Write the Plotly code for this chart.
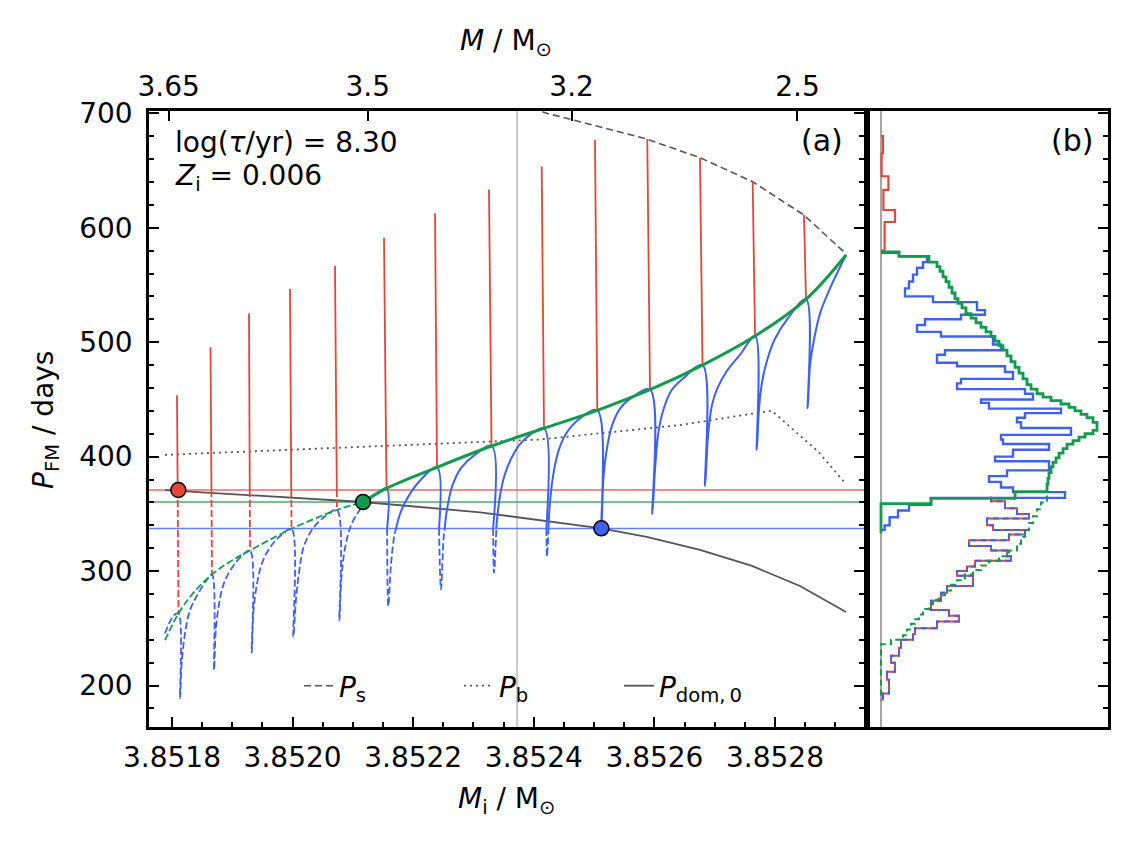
import plotly.graph_objects as go

# colours
RED = "#e0483a"
BLUE = "#4060f0"
GREEN = "#139a4e"
DARK = "#555555"

# ---------------- panel (a) data ----------------
# red tracks: one segment per loop, top -> bottom
red_top_m = [3.8518083, 3.8518639, 3.8519277, 3.8519957, 3.8520703, 3.8521516, 3.8522362,
             3.8523257, 3.8524131, 3.8525015, 3.8525882, 3.8526756, 3.8527630, 3.8528481]
red_top_p = [453.6, 495.6, 525.3, 546.5, 566.8, 591.3, 612.7, 633.4, 653.4, 676.7, 677.5, 661.2, 640.2, 611.1]
red_bot_m = [3.8518108, 3.8518663, 3.8519294, 3.8519982, 3.8520736, 3.8521557, 3.8522395,
             3.8523299, 3.8524169, 3.8525053, 3.8525927, 3.8526798, 3.8527669, 3.8528514]
red_bot_p = [263.0, 297.0, 318.0, 337.0, 353.4, 372.3, 390.7, 409.3, 424.8, 440.5, 458.5, 480.0, 505.4, 537.5]

# blue track (continuous)
blue_m = [3.8517884, 3.8517967, 3.8518033,
          3.8518108, 3.8518133, 3.8518161, 3.8518216, 3.8518299, 3.8518436, 3.8518576,
          3.8518663, 3.8518697, 3.8518726, 3.8518779, 3.8518862, 3.8518995, 3.8519161,
          3.8519294, 3.8519322, 3.8519353, 3.8519410, 3.8519493, 3.8519642, 3.8519824,
          3.8519982, 3.8520012, 3.8520056, 3.8520115, 3.8520189, 3.8520347, 3.8520554,
          3.8520736, 3.8520775, 3.8520811, 3.8520869, 3.8520969, 3.8521134, 3.8521350,
          3.8521557, 3.8521587, 3.8521632, 3.8521690, 3.8521789, 3.8521930, 3.8522129,
          3.8522395, 3.8522461, 3.8522503, 3.8522561, 3.8522652, 3.8522793, 3.8523008,
          3.8523299, 3.8523340, 3.8523382, 3.8523440, 3.8523523, 3.8523622, 3.8523771, 3.8523970,
          3.8524169, 3.8524219, 3.8524261, 3.8524319, 3.8524410, 3.8524534, 3.8524733,
          3.8525053, 3.8525120, 3.8525153, 3.8525209, 3.8525292, 3.8525430, 3.8525596,
          3.8525927, 3.8525965, 3.8526010, 3.8526065, 3.8526148, 3.8526287, 3.8526479,
          3.8526798, 3.8526839, 3.8526889, 3.8526955, 3.8527038, 3.8527204, 3.8527420,
          3.8527669, 3.8527697, 3.8527735, 3.8527785, 3.8527868, 3.8528000, 3.8528216,
          3.8528514, 3.8528542, 3.8528581, 3.8528639, 3.8528746, 3.8528912, 3.8529045, 3.8529178]
blue_p = [245.6, 256.0, 261.5,
          263.0, 188.9, 219.4, 245.6, 266.0, 280.6, 292.2,
          297.0, 213.6, 248.0, 271.0, 289.5, 303.0, 313.5,
          318.0, 228.7, 266.0, 289.0, 307.0, 322.0, 332.0,
          337.0, 242.7, 275.0, 302.0, 322.0, 338.0, 348.5,
          353.4, 256.7, 295.0, 320.0, 340.0, 355.0, 366.0,
          372.3, 269.5, 306.0, 332.0, 351.0, 366.0, 380.0,
          390.7, 284.0, 328.0, 354.0, 375.0, 390.0, 401.0,
          409.3, 298.6, 340.0, 366.0, 385.0, 398.0, 411.0, 420.4,
          424.8, 313.0, 355.0, 383.0, 405.0, 420.0, 432.0,
          440.5, 337.4, 379.6, 405.8, 426.2, 442.0, 450.5,
          458.5, 349.9, 388.3, 420.4, 440.8, 458.2, 468.4,
          480.0, 374.4, 418.0, 445.0, 459.0, 475.0, 489.0,
          505.4, 405.8, 442.0, 465.0, 484.0, 503.0, 521.0,
          537.5, 442.3, 480.0, 500.0, 525.0, 547.0, 562.0, 576.2]

# green envelope
green_m = [3.8517884, 3.8518108, 3.8518348, 3.8518663, 3.8518962, 3.8519294, 3.8519982,
           3.8520736, 3.8521168, 3.8521557, 3.8522395, 3.8523299, 3.8524169, 3.8525053,
           3.8525927, 3.8526798, 3.8527669, 3.8528514, 3.8529178]
green_p = [239.6, 263.0, 280.6, 297.0, 308.2, 318.0, 337.0, 353.4, 360.4, 372.3, 390.7,
           409.3, 424.8, 440.5, 458.5, 480.0, 505.4, 537.5, 576.2]

ps_m = [3.8523970, 3.8524214, 3.8524655, 3.8525872, 3.8526756, 3.8527630, 3.8528481, 3.8529178]
ps_p = [704.5, 700.0, 694.1, 677.5, 661.2, 640.2, 611.1, 577.1]
pb_m = [3.8517884, 3.8524103, 3.8526425, 3.8527945, 3.8528718, 3.8529178]
pb_p = [401.5, 415.0, 427.6, 440.2, 404.3, 376.0]
pdom_m = [3.8517884, 3.8521168, 3.8523108, 3.8524214, 3.8525120, 3.8525872, 3.8526756,
          3.8527619, 3.8528415, 3.8529178]
pdom_p = [370.8, 360.4, 351.4, 344.0, 337.4, 330.0, 318.5, 304.5, 287.0, 264.3]

dot_m = [3.8518105, 3.8521168, 3.8525120]
dot_p = [370.9, 360.4, 337.4]
dot_c = [RED, GREEN, BLUE]

m_vline = 3.8523722
top_tick_m = [3.8517945, 3.8521246, 3.8524627, 3.8528373]
top_tick_txt = ["3.65", "3.5", "3.2", "2.5"]

# ---------------- panel (b) histograms ----------------
red_h_edges = [680, 665, 645, 633, 615.5, 605, 580]
red_h_counts = [1, 0.3, 3.7, 1.2, 7, 1.8]

blue_h_edges = [578, 575, 570, 565, 559, 553, 547, 540, 535, 528, 524, 520, 515, 509, 505, 498,
                493, 489, 482, 479, 474, 468, 464, 459, 455, 450, 447, 442, 438, 434, 430, 425,
                419, 415, 411, 406, 400, 396, 388, 383, 378, 373, 369, 364, 358, 353, 347, 340, 336]
blue_h_counts = [9, 23, 21, 18, 16, 14, 12, 26, 48, 52, 40, 22, 18, 30, 56, 60, 32, 28, 38, 62,
                 66, 40, 38, 72, 76, 50, 54, 90, 72, 68, 70, 95, 60, 61, 84, 66, 57, 84, 63, 54,
                 60, 66, 92, 25, 14, 8.5, 4.3, 1.8]

blue_hd_edges = [365, 361, 355, 350, 346, 340, 336, 332, 327, 322, 318, 313, 309, 304, 300, 296,
                 287, 281, 274, 266, 261, 256, 250, 245, 240, 233, 226, 220, 212, 205, 193, 187]
blue_hd_counts = [55, 62, 68, 74, 53, 56, 72, 64, 44, 55, 63, 65, 47, 43, 38, 46, 33, 30, 25, 34,
                  39, 28, 17, 16, 10, 9, 5, 7, 3, 4, 1]

green_h_edges = [579, 575, 570, 566, 562, 557, 553, 548, 543, 538, 534, 530, 525, 521, 517, 513,
                 509, 505, 501, 497, 493, 488, 483, 478, 473, 468, 463, 459, 455, 452, 449, 446,
                 443, 440, 437, 434, 430, 423, 420, 417, 414, 411, 407, 403, 399, 395, 391, 386,
                 381, 376, 369.5, 363.5, 359, 333]
green_h_counts = [9, 24, 28, 29.5, 31, 32.5, 34, 35.5, 37, 38.5, 40.5, 42.5, 45, 47.5, 50, 52.5,
                  55, 57, 59, 61, 63, 65, 67, 69, 71, 73, 75, 78, 81, 85, 90, 94, 97, 100, 103,
                  106, 108, 106, 102, 99, 96, 93, 91, 89, 87.5, 86, 85, 84, 83.5, 83, 67, 25, 0]

green_hd_edges = [366, 360, 354, 348, 342, 336, 330, 324, 318, 313, 309, 305, 301, 297, 292, 288,
                  283, 279, 275, 271, 267, 262, 258, 254, 249, 244, 240, 236, 187]
green_hd_counts = [83, 80, 78, 76, 74, 72, 70, 68, 64, 59, 54, 50, 46, 42, 38, 35, 32, 29, 26, 24,
                   21, 19, 17, 15, 13, 11, 5, 0]

P_RED, P_GREEN, P_BLUE = 370.9, 360.4, 337.2
M_GREEN_DOT = dot_m[1]

XR = [3.85176186, 3.85294761]
YR = [163.8, 702.0]


def split_by(xs, ys, cond):
    """split a polyline into solid / dashed runs according to cond(x, y)"""
    sx, sy, dx, dy = [], [], [], []
    prev = None
    for x, y in zip(xs, ys):
        if x is None:
            for l in (sx, sy, dx, dy):
                l.append(None)
            prev = None
            continue
        s = cond(x, y)
        if prev is not None and s != prev[2]:
            x0, y0, s0 = prev
            lo, hi = 0.0, 1.0
            for _ in range(40):
                mid = 0.5 * (lo + hi)
                if cond(x0 + mid * (x - x0), y0 + mid * (y - y0)) == s0:
                    lo = mid
                else:
                    hi = mid
            xc, yc = x0 + lo * (x - x0), y0 + lo * (y - y0)
            tx, ty = (sx, sy) if s0 else (dx, dy)
            tx += [xc, None]
            ty += [yc, None]
            nx, ny = (sx, sy) if s else (dx, dy)
            nx.append(xc)
            ny.append(yc)
        nx, ny = (sx, sy) if s else (dx, dy)
        nx.append(x)
        ny.append(y)
        prev = (x, y, s)
    return sx, sy, dx, dy


def step_path(edges, counts, base=True):
    xs, ys = ([0.0], [edges[0]]) if base else ([], [])
    for k, c in enumerate(counts):
        xs += [c, c]
        ys += [edges[k], edges[k + 1]]
    if base:
        xs.append(0.0)
        ys.append(edges[-1])
    return xs, ys


fig = go.Figure()


def line(x, y, color, width=2, dash="solid", name=None, axes=("x", "y"), shape="linear"):
    fig.add_trace(go.Scatter(x=x, y=y, mode="lines", xaxis=axes[0], yaxis=axes[1],
                             line=dict(color=color, width=width, dash=dash, shape=shape),
                             name=name, showlegend=name is not None,
                             hoverinfo="skip", connectgaps=False))


DASH = "7px,3px"

# reference curves
line(ps_m, ps_p, DARK, 1.6, "7px,4px", "<i>P</i><sub>s</sub>")
line(pb_m, pb_p, DARK, 1.8, "2px,4px", "<i>P</i><sub>b</sub>")
line(pdom_m, pdom_p, DARK, 1.8, "solid", "<i>P</i><sub>dom,\u20090</sub>")

# red spikes
rx, ry = [], []
for a, b, c, d in zip(red_top_m, red_top_p, red_bot_m, red_bot_p):
    rx += [a, c, None]
    ry += [b, d, None]
s = split_by(rx, ry, lambda x, y: y >= P_RED)
line(s[2], s[3], RED, 1.8, DASH)
line(s[0], s[1], RED, 1.8)

# blue track
s = split_by(blue_m, blue_p, lambda x, y: y >= P_BLUE and x >= M_GREEN_DOT)
line(s[2], s[3], BLUE, 1.8, DASH, shape="spline")
line(s[0], s[1], BLUE, 2, shape="spline")

# green envelope
s = split_by(green_m, green_p, lambda x, y: y >= P_GREEN)
line(s[2], s[3], GREEN, 1.8, DASH, shape="spline")
line(s[0], s[1], GREEN, 3, shape="spline")

fig.add_trace(go.Scatter(x=dot_m, y=dot_p, mode="markers", showlegend=False, hoverinfo="skip",
                         marker=dict(size=15, color=dot_c, line=dict(color="black", width=1.5))))

# dummy trace for the top (current mass) axis
fig.add_trace(go.Scatter(x=[XR[0]], y=[300], xaxis="x3", yaxis="y", mode="markers",
                         marker=dict(opacity=0), showlegend=False, hoverinfo="skip"))

# panel (b)
B = ("x2", "y2")
x, y = step_path(red_h_edges, red_h_counts)
line(x, y, RED, 2.2, axes=B)
x, y = step_path(blue_hd_edges, blue_hd_counts, base=False)
line(x, y, RED, 2.0, axes=B)
line(x, y, BLUE, 2.0, "6px,4px", axes=B)
x, y = step_path(blue_h_edges, blue_h_counts)
line(x, y, BLUE, 2.4, axes=B)
x, y = step_path(green_hd_edges, green_hd_counts, base=False)
line(x, y, GREEN, 2.0, "6px,4px", axes=B)
x, y = step_path(green_h_edges, green_h_counts)
line(x, y, GREEN, 2.8, axes=B)

shapes = [
    dict(type="line", xref="x", yref="y domain", x0=m_vline, x1=m_vline, y0=0, y1=1,
         line=dict(color="#bbbbbb", width=1.5), layer="below"),
    dict(type="line", xref="x2", yref="y2 domain", x0=0, x1=0, y0=0, y1=1,
         line=dict(color="#888888", width=1.5), layer="below"),
]
for p, c in [(P_RED, "rgba(224,72,58,0.8)"), (P_GREEN, "rgba(19,154,78,0.8)"),
             (P_BLUE, "rgba(64,96,240,0.8)")]:
    shapes.append(dict(type="line", xref="x domain", yref="y", x0=0, x1=1, y0=p, y1=p,
                       line=dict(color=c, width=1.5), layer="below"))

FONT = "DejaVu Sans"
FS = 28
tick_common = dict(ticks="inside", ticklen=10, tickwidth=2, tickcolor="black", showgrid=False,
                   zeroline=False, automargin=False,
                   tickfont=dict(size=FS, color="black", family=FONT))
frame = dict(linecolor="black", linewidth=2.5)


def note(text, x, y, xa="center", size=FS, angle=0):
    return dict(text=text, x=x, y=y, xref="paper", yref="paper", xanchor=xa, yanchor="middle",
                showarrow=False, textangle=angle, font=dict(size=size))


fig.update_layout(
    width=1137, height=846, margin=dict(l=0, r=0, t=0, b=0, autoexpand=False),
    plot_bgcolor="white", paper_bgcolor="white",
    font=dict(family=FONT, size=FS, color="black"),
    shapes=shapes,
    xaxis=dict(domain=[0.12401, 0.75286], range=XR, anchor="y", tickmode="linear",
               tick0=3.8518, dtick=0.0002, tickformat=".4f", showline=True, mirror=True,
               ticklabelstandoff=4,
               minor=dict(ticks="inside", dtick=0.00005, tick0=3.8518, ticklen=5, tickwidth=1.5,
                          tickcolor="black"),
               **tick_common, **frame),
    xaxis3=dict(overlaying="x", side="top", anchor="y", range=XR, tickmode="array",
                tickvals=top_tick_m, ticktext=top_tick_txt, showline=False,
                ticklabelstandoff=8, **tick_common),
    yaxis=dict(domain=[0.15012, 0.87825], range=YR, anchor="x", tickmode="linear", tick0=0,
               dtick=100, showline=True, mirror="ticks", ticklabelstandoff=8,
               minor=dict(ticks="inside", dtick=20, ticklen=5, tickwidth=1.5, tickcolor="black"),
               **tick_common, **frame),
    xaxis2=dict(domain=[0.75814, 0.96746], range=[-5.5, 113.5], anchor="y2", showticklabels=False,
                ticks="", showline=True, mirror=True, showgrid=False, zeroline=False,
                automargin=False, **frame),
    yaxis2=dict(domain=[0.15012, 0.87825], range=YR, anchor="x2", side="right", tickmode="linear",
                tick0=0, dtick=100, showticklabels=False, showline=True, mirror=True,
                minor=dict(ticks="inside", dtick=20, ticklen=5, tickwidth=1.5, tickcolor="black"),
                **tick_common, **frame),
    legend=dict(orientation="h", x=0.2559, y=0.1986, xanchor="left", yanchor="middle",
                bgcolor="rgba(0,0,0,0)", font=dict(size=FS, family=FONT),
                entrywidth=115, entrywidthmode="pixels"),
    annotations=[
        note("log(<i>τ</i>/yr) = 8.30", 0.1451, 0.8416, xa="left"),
        note("<i>Z</i><sub>i</sub> = 0.006", 0.1451, 0.8002, xa="left"),
        note("(a)", 0.7361, 0.8428, xa="right", size=30),
        note("(b)", 0.9560, 0.8428, xa="right", size=30),
        note("<i>P</i><sub>FM</sub> / days", 0.0325, 0.513, angle=-90),
        note("<i>M</i><sub>i</sub> / M<sub>⊙</sub>", 0.438, 0.0638),
        note("<i>M</i> / M<sub>⊙</sub>", 0.438, 0.9598),
    ],
)

fig.write_html("out.html")
